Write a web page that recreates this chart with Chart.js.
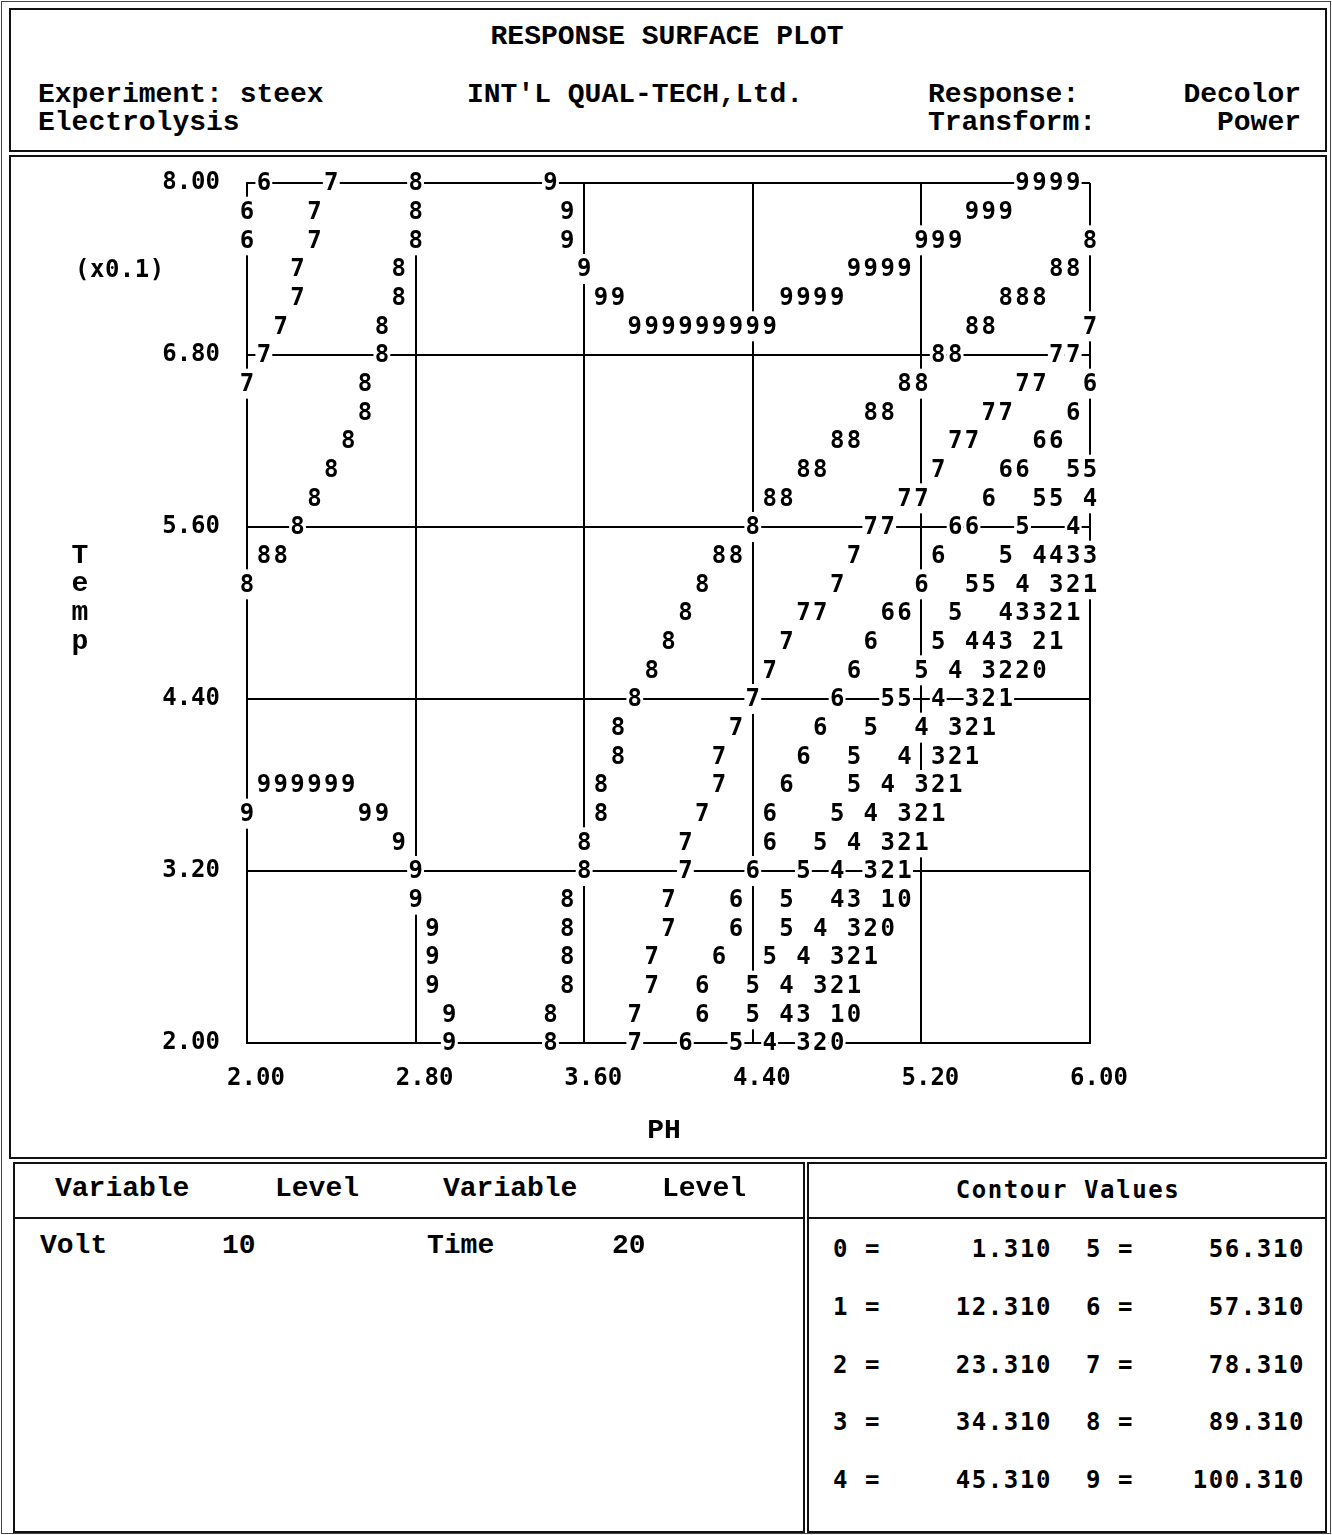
<!DOCTYPE html>
<html>
<head>
<meta charset="utf-8">
<script src="https://cdn.jsdelivr.net/npm/chart.js@4.4.1/dist/chart.umd.min.js"></script>
<style>
  html, body { margin: 0; padding: 0; background: #fff; }
  #page { position: relative; width: 1332px; height: 1535px; background: #fff; overflow: hidden; }
  .box { position: absolute; border: 2px solid #111; box-sizing: border-box; }
  .hline { position: absolute; height: 2px; background: #111; }
  .t { position: absolute; white-space: pre; line-height: 1; color: #000; transform: translateY(-50%); }
  .cour { font-family: "Liberation Mono", "DejaVu Sans Mono", monospace; font-weight: bold; font-size: 28px; }
  .sans { font-family: "DejaVu Sans Mono", monospace; font-weight: bold; font-size: 24px; letter-spacing: 1.6px; }
  .r { transform: translate(-100%, -50%); }
  .c { transform: translate(-50%, -50%); }
  #plot { position: absolute; left: 12px; top: 123px; width: 1312px; height: 1033px; }
</style>
</head>
<body>
<div id="page">
  <div class="box" style="left:1px;top:1px;width:1330px;height:1533px;border-width:1px;border-color:#444;"></div>

  <!-- header panel -->
  <div class="box" style="left:9px;top:8px;width:1318px;height:144px;"></div>
  <div class="t cour c" style="left:667px;top:37px;">RESPONSE SURFACE PLOT</div>
  <div class="t cour" style="left:38px;top:95px;">Experiment: steex</div>
  <div class="t cour" style="left:467px;top:95px;">INT'L QUAL-TECH,Ltd.</div>
  <div class="t cour" style="left:928px;top:95px;">Response:</div>
  <div class="t cour r" style="left:1301px;top:95px;">Decolor</div>
  <div class="t cour" style="left:38px;top:123px;">Electrolysis</div>
  <div class="t cour" style="left:928px;top:123px;">Transform:</div>
  <div class="t cour r" style="left:1301px;top:123px;">Power</div>

  <!-- plot panel -->
  <div class="box" style="left:9px;top:155px;width:1318px;height:1004px;"></div>
  <canvas id="plot" width="1312" height="1033"></canvas>
  <div class="t sans" style="left:75px;top:269px;letter-spacing:0.5px;">(x0.1)</div>
  <div class="t cour c" style="left:80px;top:556px;">T</div>
  <div class="t cour c" style="left:80px;top:584px;">e</div>
  <div class="t cour c" style="left:80px;top:613px;">m</div>
  <div class="t cour c" style="left:80px;top:642px;">p</div>
  <div class="t cour c" style="left:664px;top:1131px;">PH</div>

  <!-- fixed factor levels -->
  <div class="box" style="left:13px;top:1162px;width:792px;height:371px;"></div>
  <div class="hline" style="left:13px;top:1217px;width:792px;"></div>
  <div id="levels"></div>

  <!-- contour legend -->
  <div class="box" style="left:807px;top:1162px;width:520px;height:371px;"></div>
  <div class="hline" style="left:807px;top:1217px;width:520px;"></div>
  <div class="t sans c" style="left:1068px;top:1190px;">Contour Values</div>
  <div id="legend"></div>
</div>

<script>
// ---- axis definitions (pH across, Temp x0.1 up) ----
const phMin = 2.00, phMax = 6.00, phStep = 0.08;
const tempMin = 2.00, tempMax = 8.00, tempStep = 0.20;
const phTicks = [2.00, 2.80, 3.60, 4.40, 5.20, 6.00];
const tempTicks = [2.00, 3.20, 4.40, 5.60, 6.80, 8.00];

// ---- printed contour map: one list per print line from Temp 8.00 down to 2.00;
//      each entry is [pH column, run of contour digits starting there] ----
const contourRuns = [
  [[1,'6'],[5,'7'],[10,'8'],[18,'9'],[46,'9999']],
  [[0,'6'],[4,'7'],[10,'8'],[19,'9'],[43,'999']],
  [[0,'6'],[4,'7'],[10,'8'],[19,'9'],[40,'999'],[50,'8']],
  [[3,'7'],[9,'8'],[20,'9'],[36,'9999'],[48,'88']],
  [[3,'7'],[9,'8'],[21,'99'],[32,'9999'],[45,'888']],
  [[2,'7'],[8,'8'],[23,'999999999'],[43,'88'],[50,'7']],
  [[1,'7'],[8,'8'],[41,'88'],[48,'77']],
  [[0,'7'],[7,'8'],[39,'88'],[46,'77'],[50,'6']],
  [[7,'8'],[37,'88'],[44,'77'],[49,'6']],
  [[6,'8'],[35,'88'],[42,'77'],[47,'66']],
  [[5,'8'],[33,'88'],[41,'7'],[45,'66'],[49,'55']],
  [[4,'8'],[31,'88'],[39,'77'],[44,'6'],[47,'55'],[50,'4']],
  [[3,'8'],[30,'8'],[37,'77'],[42,'66'],[46,'5'],[49,'4']],
  [[1,'88'],[28,'88'],[36,'7'],[41,'6'],[45,'5'],[47,'4433']],
  [[0,'8'],[27,'8'],[35,'7'],[40,'6'],[43,'55'],[46,'4'],[48,'321']],
  [[26,'8'],[33,'77'],[38,'66'],[42,'5'],[45,'43321']],
  [[25,'8'],[32,'7'],[37,'6'],[41,'5'],[43,'443'],[47,'21']],
  [[24,'8'],[31,'7'],[36,'6'],[40,'5'],[42,'4'],[44,'3220']],
  [[23,'8'],[30,'7'],[35,'6'],[38,'55'],[41,'4'],[43,'321']],
  [[22,'8'],[29,'7'],[34,'6'],[37,'5'],[40,'4'],[42,'321']],
  [[22,'8'],[28,'7'],[33,'6'],[36,'5'],[39,'4'],[41,'321']],
  [[1,'999999'],[21,'8'],[28,'7'],[32,'6'],[36,'5'],[38,'4'],[40,'321']],
  [[0,'9'],[7,'99'],[21,'8'],[27,'7'],[31,'6'],[35,'5'],[37,'4'],[39,'321']],
  [[9,'9'],[20,'8'],[26,'7'],[31,'6'],[34,'5'],[36,'4'],[38,'321']],
  [[10,'9'],[20,'8'],[26,'7'],[30,'6'],[33,'5'],[35,'4'],[37,'321']],
  [[10,'9'],[19,'8'],[25,'7'],[29,'6'],[32,'5'],[35,'43'],[38,'10']],
  [[11,'9'],[19,'8'],[25,'7'],[29,'6'],[32,'5'],[34,'4'],[36,'320']],
  [[11,'9'],[19,'8'],[24,'7'],[28,'6'],[31,'5'],[33,'4'],[35,'321']],
  [[11,'9'],[19,'8'],[24,'7'],[27,'6'],[30,'5'],[32,'4'],[34,'321']],
  [[12,'9'],[18,'8'],[23,'7'],[27,'6'],[30,'5'],[32,'43'],[35,'10']],
  [[12,'9'],[18,'8'],[23,'7'],[26,'6'],[29,'5'],[31,'4'],[33,'320']]
];

// ---- contour level legend ----
const contourLevels = ['0','1','2','3','4','5','6','7','8','9'];
const contourValues = ['1.310','12.310','23.310','34.310','45.310','56.310','57.310','78.310','89.310','100.310'];

// ---- fixed factor settings ----
const fixedVariables = ['Volt', 'Time'];
const fixedLevels = ['10', '20'];

// build the digit points in (pH, Temp) data space
const digitPoints = [];
contourRuns.forEach((runs, row) => {
  const temp = tempMax - row * tempStep;
  runs.forEach(([col, digits]) => {
    [...digits].forEach((d, k) => {
      digitPoints.push({ x: +(phMin + (col + k) * phStep).toFixed(2), y: +temp.toFixed(2), label: d });
    });
  });
});

// digits are printed over the grid, each knocking out the rule beneath it
const digitPlugin = {
  id: 'contourDigits',
  afterDatasetsDraw(chart) {
    const ctx = chart.ctx;
    const meta = chart.getDatasetMeta(0);
    const pts = chart.data.datasets[0].data;
    const xs = chart.scales.x;
    const cellW = Math.abs(xs.getPixelForValue(phMin + phStep) - xs.getPixelForValue(phMin));
    ctx.save();
    ctx.fillStyle = '#fff';
    meta.data.forEach(el => ctx.fillRect(el.x - cellW / 2, el.y - 15, cellW, 30));
    ctx.fillStyle = '#000';
    ctx.font = 'bold 24px "DejaVu Sans Mono"';
    ctx.textAlign = 'center';
    ctx.textBaseline = 'middle';
    meta.data.forEach((el, i) => ctx.fillText(pts[i].label, el.x, el.y + 1));
    ctx.restore();
  }
};

const tickFont = { family: 'DejaVu Sans Mono', weight: 'bold', size: 24 };

new Chart(document.getElementById('plot'), {
  type: 'scatter',
  data: {
    datasets: [{
      label: 'Decolor contours',
      data: digitPoints,
      pointRadius: 0,
      pointHoverRadius: 0,
      showLine: false
    }]
  },
  options: {
    responsive: false,
    animation: false,
    events: [],
    layout: { padding: { left: 0, top: 60, right: 234, bottom: 0 } },
    plugins: { legend: { display: false }, tooltip: { enabled: false } },
    scales: {
      x: {
        type: 'linear', min: phMin, max: phMax,
        afterBuildTicks: s => { s.ticks = phTicks.map(v => ({ value: v })); },
        afterFit: s => { s.height = 113; },
        grid: { color: '#000', lineWidth: 2, drawTicks: false },
        border: { color: '#000', width: 2 },
        ticks: {
          font: tickFont, color: '#000', padding: 21, labelOffset: 9, maxRotation: 0,
          callback: v => v.toFixed(2)
        }
      },
      y: {
        type: 'linear', min: tempMin, max: tempMax,
        afterBuildTicks: s => { s.ticks = tempTicks.map(v => ({ value: v })); },
        afterFit: s => { s.width = 235; },
        grid: { color: '#000', lineWidth: 2, drawTicks: false },
        border: { color: '#000', width: 2 },
        ticks: {
          font: tickFont, color: '#000', padding: 27,
          callback: v => v.toFixed(2)
        }
      }
    }
  },
  plugins: [digitPlugin]
});

// level table
const lv = document.getElementById('levels');
const addText = (parent, cls, left, top, txt) => {
  const d = document.createElement('div');
  d.className = 't ' + cls;
  d.style.left = left + 'px';
  d.style.top = top + 'px';
  d.textContent = txt;
  parent.appendChild(d);
};
addText(lv, 'cour', 55, 1189, 'Variable');
addText(lv, 'cour', 275, 1189, 'Level');
addText(lv, 'cour', 443, 1189, 'Variable');
addText(lv, 'cour', 662, 1189, 'Level');
addText(lv, 'cour', 40, 1246, fixedVariables[0]);
addText(lv, 'cour', 222, 1246, fixedLevels[0]);
addText(lv, 'cour', 427, 1246, fixedVariables[1]);
addText(lv, 'cour', 612, 1246, fixedLevels[1]);

// contour value table, two columns of five
const lg = document.getElementById('legend');
contourLevels.forEach((lvl, i) => {
  const col = Math.floor(i / 5), row = i % 5;
  const top = 1249 + row * 57.8;
  addText(lg, 'sans', col === 0 ? 833 : 1086, top, lvl + ' =');
  addText(lg, 'sans r', col === 0 ? 1052 : 1305, top, contourValues[i]);
});
</script>
</body>
</html>
